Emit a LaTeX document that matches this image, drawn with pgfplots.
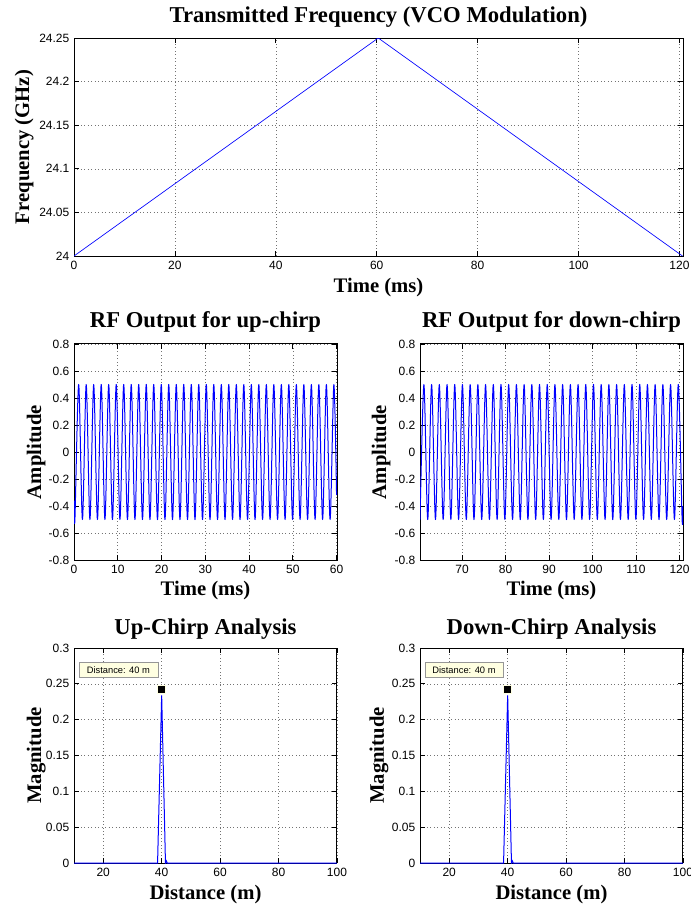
\documentclass[border=0pt]{standalone}
\usepackage{fontspec}
\setmainfont{Liberation Serif}
\newfontfamily\hel{Liberation Sans}
\usepackage{pgfplots}
\pgfplotsset{compat=1.18}
\definecolor{tipbg}{RGB}{255,255,225}
\definecolor{tipborder}{RGB}{150,150,150}
\pgfplotsset{
  mystyle/.style={
    scale only axis, anchor=south west,
    grid=major,
    grid style={black!55, line width=0.4pt, dash pattern=on 0.6pt off 2pt},
    axis line style={black, line width=0.75pt},
    tick style={black, line width=0.6pt},
    major tick length=3.5pt, tick align=inside,
    ticklabel style={font=\hel\fontsize{9}{10}\selectfont},
    /pgf/number format/assume math mode=true,
    title style={font=\bfseries\fontsize{17}{19}\selectfont, anchor=center, yshift=-6pt},
    xlabel style={font=\bfseries\fontsize{15.5}{17}\selectfont, anchor=center},
    ylabel style={font=\bfseries\fontsize{15.5}{17}\selectfont, anchor=center, rotate=0},
    clip=true,
  }
}
\begin{document}
\begin{tikzpicture}
\useasboundingbox (0,0) rectangle (517.5pt,-681pt);
% ---------- top ----------
\begin{axis}[mystyle, at={(55.5pt,-192pt)}, width=456.75pt, height=163.5pt,
  xmin=0, xmax=120.7, ymin=24, ymax=24.25,
  xtick={0,20,40,60,80,100,120},
  ytick={24,24.05,24.1,24.15,24.2,24.25},
  yticklabels={24,24.05,24.1,24.15,24.2,24.25},
  title={Transmitted Frequency (VCO Modulation)},
  title style={at={(axis description cs:0.5,1.096)}},
  xlabel={Time (ms)}, xlabel style={at={(axis description cs:0.5,-0.146)}},
  ylabel={Frequency (GHz)}, ylabel style={at={(axis description cs:-0.082,0.5)}},
]
\addplot[blue, line width=0.5pt] coordinates {(0,24) (60.3,24.25) (120.6,24)};
\end{axis}
% ---------- middle left ----------
\begin{axis}[mystyle, at={(55.5pt,-420pt)}, width=197.25pt, height=162pt,
  xmin=0, xmax=60.1, ymin=-0.8, ymax=0.8,
  xtick={0,10,20,30,40,50,60},
  ytick={-0.8,-0.6,-0.4,-0.2,0,0.2,0.4,0.6,0.8},
  yticklabels={-0.8,-0.6,-0.4,-0.2,0,0.2,0.4,0.6,0.8},
  title={RF Output for up-chirp},
  title style={at={(axis description cs:0.5,1.102)}},
  xlabel={Time (ms)}, xlabel style={at={(axis description cs:0.5,-0.142)}},
  ylabel={Amplitude}, ylabel style={at={(axis description cs:-0.144,0.5)}},
]
\addplot[blue, line width=0.75pt, smooth, line join=round] coordinates {
(0,-0.36) (0.21,-0.5) (1.07,0.5) (1.93,-0.5) (2.79,0.5) (3.64,-0.5) (4.50,0.5) (5.36,-0.5) (6.22,0.5) (7.07,-0.5) (7.93,0.5) (8.79,-0.5) (9.65,0.5) (10.50,-0.5) (11.36,0.5) (12.22,-0.5) (13.08,0.5) (13.93,-0.5) (14.79,0.5) (15.65,-0.5) (16.51,0.5) (17.36,-0.5) (18.22,0.5) (19.08,-0.5) (19.94,0.5) (20.79,-0.5) (21.65,0.5) (22.51,-0.5) (23.37,0.5) (24.22,-0.5) (25.08,0.5) (25.94,-0.5) (26.80,0.5) (27.65,-0.5) (28.51,0.5) (29.37,-0.5) (30.23,0.5) (31.08,-0.5) (31.94,0.5) (32.80,-0.5) (33.66,0.5) (34.51,-0.5) (35.37,0.5) (36.23,-0.5) (37.09,0.5) (37.94,-0.5) (38.80,0.5) (39.66,-0.5) (40.52,0.5) (41.37,-0.5) (42.23,0.5) (43.09,-0.5) (43.95,0.5) (44.80,-0.5) (45.66,0.5) (46.52,-0.5) (47.38,0.5) (48.23,-0.5) (49.09,0.5) (49.95,-0.5) (50.81,0.5) (51.66,-0.5) (52.52,0.5) (53.38,-0.5) (54.24,0.5) (55.09,-0.5) (55.95,0.5) (56.81,-0.5) (57.67,0.5) (58.52,-0.5) (59.38,0.5) (60,-0.32)
};
\end{axis}
% ---------- middle right ----------
\begin{axis}[mystyle, at={(315pt,-420pt)}, width=197.25pt, height=162pt,
  xmin=60.3, xmax=120.8, ymin=-0.8, ymax=0.8,
  xtick={70,80,90,100,110,120},
  ytick={-0.8,-0.6,-0.4,-0.2,0,0.2,0.4,0.6,0.8},
  yticklabels={-0.8,-0.6,-0.4,-0.2,0,0.2,0.4,0.6,0.8},
  title={RF Output for down-chirp},
  title style={at={(axis description cs:0.5,1.102)}},
  xlabel={Time (ms)}, xlabel style={at={(axis description cs:0.5,-0.142)}},
  ylabel={Amplitude}, ylabel style={at={(axis description cs:-0.148,0.5)}},
]
\addplot[blue, line width=0.75pt, smooth, line join=round] coordinates {
(60.31,-0.5) (61.20,0.5) (62.08,-0.5) (62.97,0.5) (63.86,-0.5) (64.74,0.5) (65.63,-0.5) (66.52,0.5) (67.40,-0.5) (68.29,0.5) (69.18,-0.5) (70.06,0.5) (70.95,-0.5) (71.84,0.5) (72.72,-0.5) (73.61,0.5) (74.50,-0.5) (75.38,0.5) (76.27,-0.5) (77.16,0.5) (78.04,-0.5) (78.93,0.5) (79.82,-0.5) (80.70,0.5) (81.59,-0.5) (82.48,0.5) (83.36,-0.5) (84.25,0.5) (85.13,-0.5) (86.02,0.5) (86.91,-0.5) (87.79,0.5) (88.68,-0.5) (89.57,0.5) (90.45,-0.5) (91.34,0.5) (92.23,-0.5) (93.11,0.5) (94.00,-0.5) (94.89,0.5) (95.77,-0.5) (96.66,0.5) (97.55,-0.5) (98.43,0.5) (99.32,-0.5) (100.21,0.5) (101.09,-0.5) (101.98,0.5) (102.87,-0.5) (103.75,0.5) (104.64,-0.5) (105.53,0.5) (106.41,-0.5) (107.30,0.5) (108.19,-0.5) (109.07,0.5) (109.96,-0.5) (110.85,0.5) (111.73,-0.5) (112.62,0.5) (113.51,-0.5) (114.39,0.5) (115.28,-0.5) (116.17,0.5) (117.05,-0.5) (117.94,0.5) (118.83,-0.5) (119.71,0.5) (120.60,-0.5) (120.8,-0.4)
};
\end{axis}
% ---------- bottom left ----------
\begin{axis}[mystyle, at={(55.5pt,-647.25pt)}, width=197.25pt, height=161.25pt,
  xmin=10, xmax=100, ymin=0, ymax=0.3,
  xtick={20,40,60,80,100},
  ytick={0,0.05,0.1,0.15,0.2,0.25,0.3},
  yticklabels={0,0.05,0.1,0.15,0.2,0.25,0.3},
  title={Up-Chirp Analysis},
  title style={at={(axis description cs:0.5,1.09)}},
  xlabel={Distance (m)}, xlabel style={at={(axis description cs:0.5,-0.145)}},
  ylabel={Magnitude}, ylabel style={at={(axis description cs:-0.144,0.5)}},
]
\addplot[blue, line width=0.75pt] coordinates {(10,0) (38.6,0) (40,0.234) (41.3,0) (41.6,0.003) (41.9,0) (100,0)};
\addplot[only marks, mark=square*, mark size=3pt, mark options={fill=black, draw=tipbg, line width=1pt}] coordinates {(40,0.242)};
\draw[tipborder, fill=tipbg, line width=0.5pt] (axis cs:11.7,0.2585) rectangle (axis cs:38.7,0.2795);
\node[font=\hel\fontsize{7}{8}\selectfont, anchor=center] at (axis cs:25.2,0.269) {Distance: 40 m};
\end{axis}
% ---------- bottom right ----------
\begin{axis}[mystyle, at={(315pt,-647.25pt)}, width=197.25pt, height=161.25pt,
  xmin=10, xmax=100, ymin=0, ymax=0.3,
  xtick={20,40,60,80,100},
  ytick={0,0.05,0.1,0.15,0.2,0.25,0.3},
  yticklabels={0,0.05,0.1,0.15,0.2,0.25,0.3},
  title={Down-Chirp Analysis},
  title style={at={(axis description cs:0.5,1.09)}},
  xlabel={Distance (m)}, xlabel style={at={(axis description cs:0.5,-0.145)}},
  ylabel={Magnitude}, ylabel style={at={(axis description cs:-0.156,0.5)}},
]
\addplot[blue, line width=0.75pt] coordinates {(10,0) (38.6,0) (40,0.234) (41.3,0) (41.6,0.003) (41.9,0) (100,0)};
\addplot[only marks, mark=square*, mark size=3pt, mark options={fill=black, draw=tipbg, line width=1pt}] coordinates {(40,0.242)};
\draw[tipborder, fill=tipbg, line width=0.5pt] (axis cs:11.7,0.2585) rectangle (axis cs:38.4,0.2795);
\node[font=\hel\fontsize{7}{8}\selectfont, anchor=center] at (axis cs:25.05,0.269) {Distance: 40 m};
\end{axis}
\end{tikzpicture}
\end{document}
